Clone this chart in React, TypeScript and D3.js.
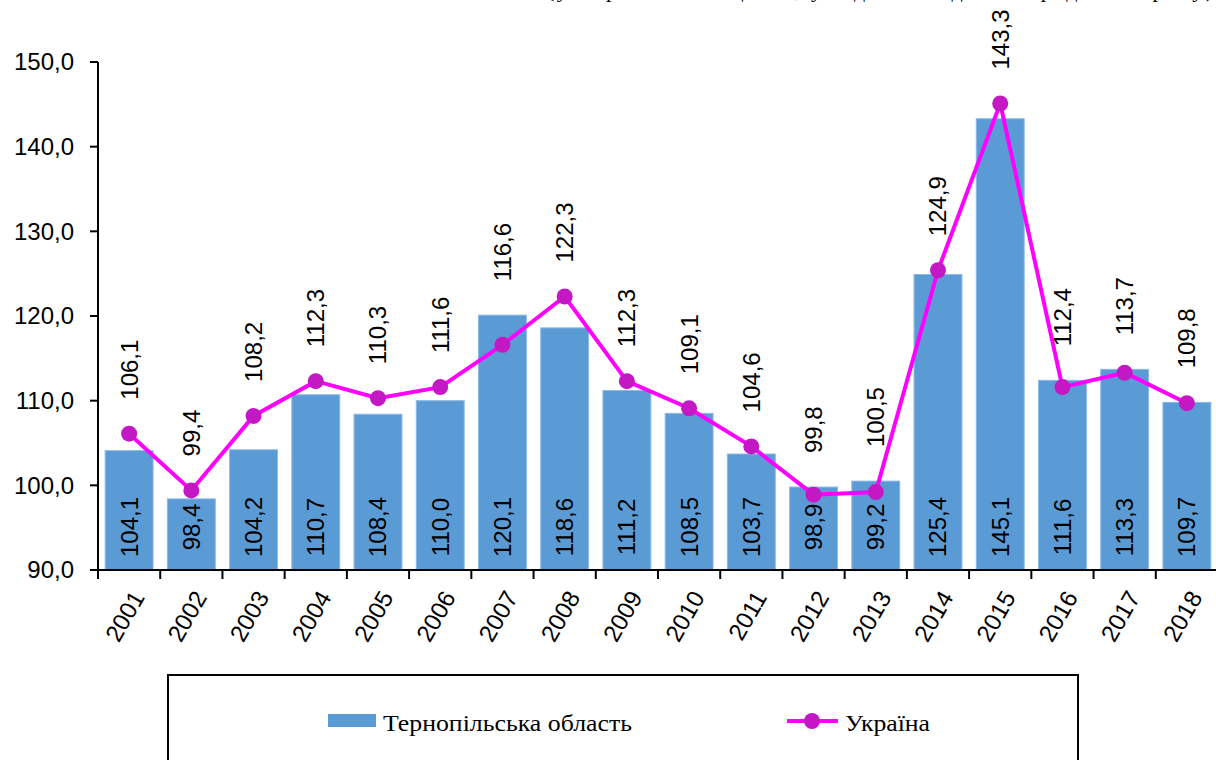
import React from "react";
import * as d3 from "d3";

const years = ["2001","2002","2003","2004","2005","2006","2007","2008","2009","2010","2011","2012","2013","2014","2015","2016","2017","2018"];
// Тернопільська область (bar heights as drawn)
const regionValues = [104.1, 98.4, 104.2, 110.7, 108.4, 110.0, 120.1, 118.6, 111.2, 108.5, 103.7, 99.8, 100.5, 124.9, 143.3, 112.4, 113.7, 109.8];
// Україна (line points as drawn)
const ukraineValues = [106.1, 99.4, 108.2, 112.3, 110.3, 111.6, 116.6, 122.3, 112.3, 109.1, 104.6, 98.9, 99.2, 125.4, 145.1, 111.6, 113.3, 109.7];
// labels as printed in the chart
const insideLabels = ["104,1","98,4","104,2","110,7","108,4","110,0","120,1","118,6","111,2","108,5","103,7","98,9","99,2","125,4","145,1","111,6","113,3","109,7"];
const aboveLabels = ["106,1","99,4","108,2","112,3","110,3","111,6","116,6","122,3","112,3","109,1","104,6","99,8","100,5","124,9","143,3","112,4","113,7","109,8"];
const yTicks = [90, 100, 110, 120, 130, 140, 150];
const legendNames = ["Тернопільська область", "Україна"];
const topNote = "(у порівнянних цінах; у відсотках до попереднього року)";

const W = 1216, H = 760;
const SANS = "'Liberation Sans', Arial, sans-serif";
const SERIF = "'Liberation Serif', 'Times New Roman', serif";
const BAR = "#5B9BD5";
const LINE = "#FF00FF";
const MARK = "#C418C4";

export default function App() {
  const x = d3.scaleBand<string>().domain(years).range([98, 1218]).paddingInner(0.23).paddingOuter(0.115);
  const y = d3.scaleLinear().domain([90, 150]).range([570, 62]);
  const step = x.step();
  const cx = (i: number) => (x(years[i]) as number) + x.bandwidth() / 2;
  const fmt = (v: number) => v.toFixed(1).replace(".", ",");
  const line = d3.line<number>().x((_, i) => cx(i)).y((d) => y(d));
  const boundaries = d3.range(years.length + 1).map((i) => 98 + i * step);

  return (
    <div style={{ position: "absolute", left: 0, top: 0 }}>
      <svg width={W} height={H} style={{ display: "block" }}>
        <rect width={W} height={H} fill="#fff" />
        <text x={547} y={-3} fontFamily={SERIF} fontSize={22} textLength={666} lengthAdjust="spacing">{topNote}</text>

        {/* bars */}
        {regionValues.map((v, i) => (
          <rect key={"b" + i} x={x(years[i])} y={y(v)} width={x.bandwidth()} height={y(90) - y(v)} fill={BAR} stroke="#8DB9E6" strokeWidth={1} />
        ))}

        {/* axes */}
        <line x1={98} y1={y(150)} x2={98} y2={y(90)} stroke="#000" strokeWidth={2} />
        {yTicks.map((t) => (
          <g key={"yt" + t}>
            <line x1={90} x2={98} y1={y(t)} y2={y(t)} stroke="#000" strokeWidth={2} />
            <text x={74} y={y(t)} dy="0.35em" textAnchor="end" fontFamily={SANS} fontSize={24}>{fmt(t)}</text>
          </g>
        ))}
        <line x1={90} y1={y(90)} x2={W} y2={y(90)} stroke="#000" strokeWidth={2} />
        {boundaries.map((b, i) => (
          <line key={"xt" + i} x1={b} x2={b} y1={y(90)} y2={y(90) + 9} stroke="#000" strokeWidth={2} />
        ))}
        {years.map((yr, i) => (
          <text key={"xl" + i} transform={`translate(${cx(i) + 9},${593}) rotate(-60)`} textAnchor="end" dy="0.35em" fontFamily={SANS} fontSize={24}>{yr}</text>
        ))}

        {/* line */}
        <path d={line(ukraineValues) || ""} fill="none" stroke={LINE} strokeWidth={4} />
        {ukraineValues.map((v, i) => (
          <circle key={"m" + i} cx={cx(i)} cy={y(v)} r={8} fill={MARK} />
        ))}

        {/* labels */}
        {insideLabels.map((s, i) => (
          <text key={"il" + i} transform={`translate(${cx(i)},${527}) rotate(-90)`} textAnchor="middle" dy="0.35em" fontFamily={SANS} fontSize={24}>{s}</text>
        ))}
        {aboveLabels.map((s, i) => (
          <text key={"al" + i} transform={`translate(${cx(i)},${y(Math.max(regionValues[i], ukraineValues[i])) - 34}) rotate(-90)`} textAnchor="start" dy="0.35em" fontFamily={SANS} fontSize={24}>{s}</text>
        ))}

        {/* legend */}
        <rect x={168} y={675} width={910} height={100} fill="none" stroke="#000" strokeWidth={2} />
        <rect x={328} y={714} width={48} height={13} fill={BAR} />
        <text x={383} y={731} fontFamily={SERIF} fontSize={24} textLength={249} lengthAdjust="spacingAndGlyphs">{legendNames[0]}</text>
        <line x1={787} x2={838} y1={721} y2={721} stroke={LINE} strokeWidth={4} />
        <circle cx={812} cy={721} r={8} fill={MARK} />
        <text x={845} y={731} fontFamily={SERIF} fontSize={24} textLength={85} lengthAdjust="spacingAndGlyphs">{legendNames[1]}</text>
      </svg>
    </div>
  );
}
